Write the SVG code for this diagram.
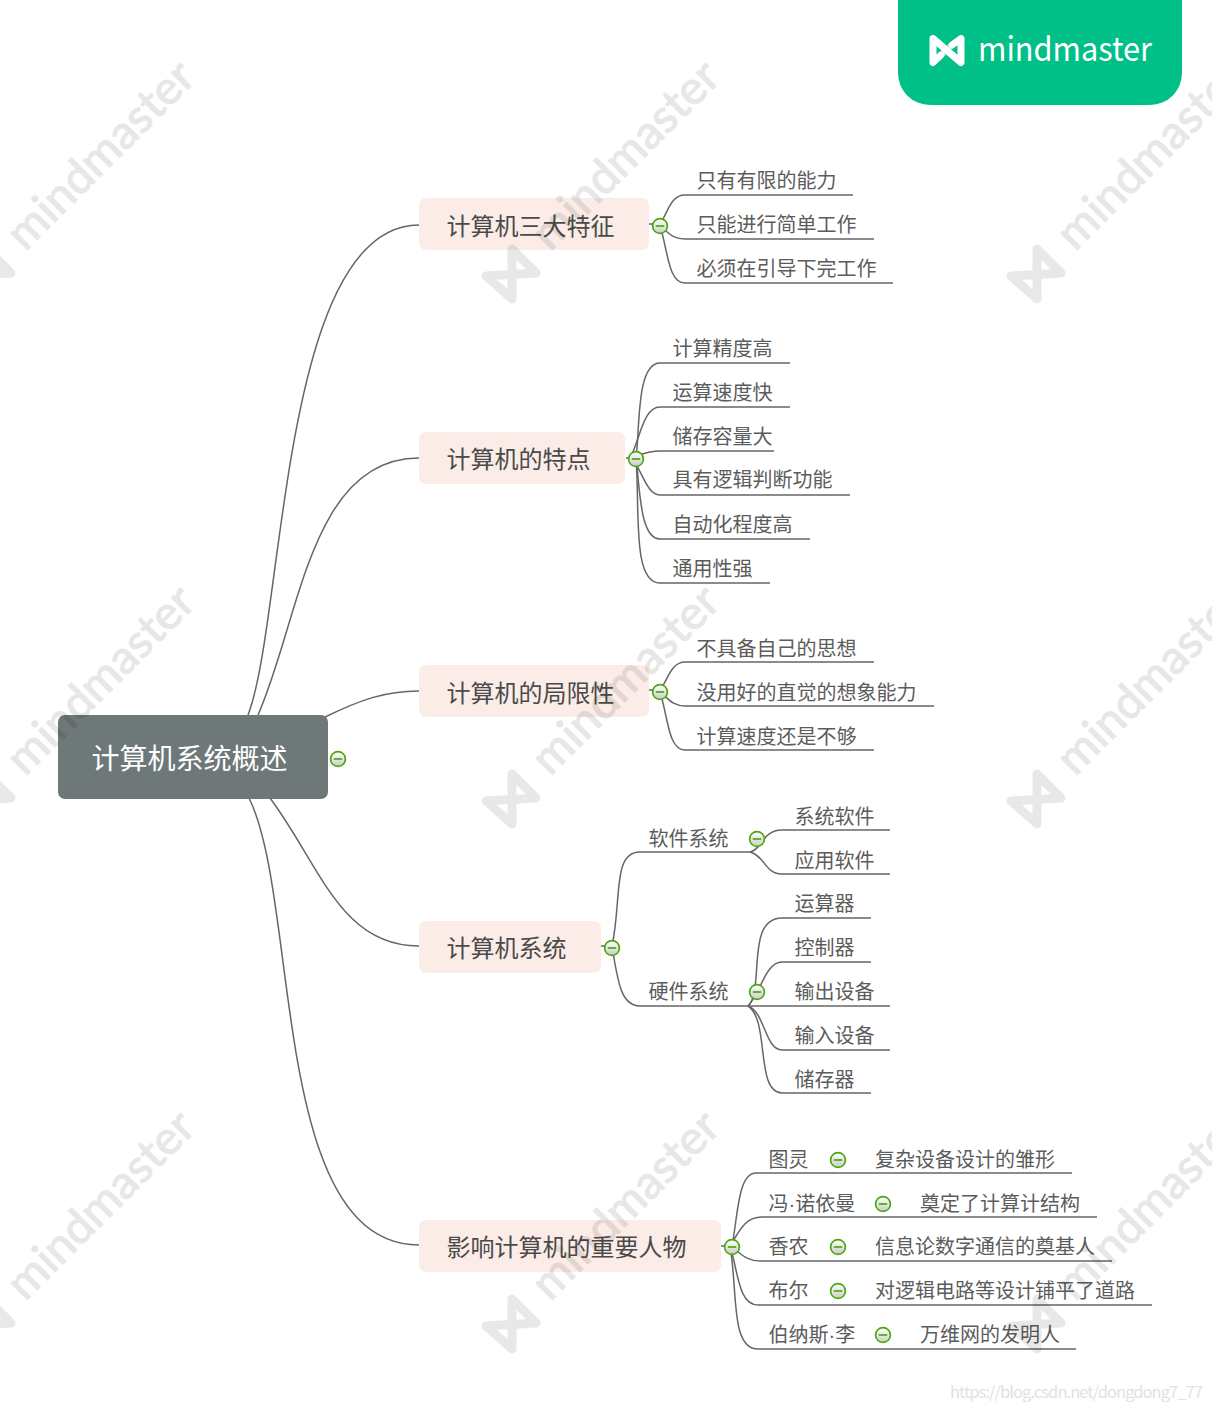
<svg xmlns="http://www.w3.org/2000/svg" width="1212" height="1410" viewBox="0 0 1212 1410">
<style>
text{font-family:"Noto Sans CJK SC","Noto Sans",sans-serif}
.c{fill:none;stroke:#666;stroke-width:1.5}
.m{fill:#fbece7}
.mt{font-size:24px;fill:#4a4a4a}
.lt{font-size:20px;fill:#5c5c5c}
.d{font-family:"Liberation Sans",sans-serif}
.b circle{fill:url(#bg);stroke:#4ca80e;stroke-width:1.7}
.b path{stroke:#4ca80e;stroke-width:1.7;fill:none}
.wt{font-family:Lato,"Open Sans",sans-serif;font-size:46px;fill:#000;stroke:#000;stroke-width:1.2;opacity:.09}
.wl{fill:none;stroke:#000;stroke-opacity:.09;stroke-width:9;stroke-linejoin:round}
</style>
<defs>
<linearGradient id="bg" x1="0" y1="0" x2="0" y2="1"><stop offset="0" stop-color="#fff"/><stop offset="1" stop-color="#c9cdc9"/></linearGradient>
<g id="btn" class="b"><circle r="7.4"/><path d="M-4.2 0H4.2"/></g>
<g id="wm">
<text class="wt" transform="translate(25,252) rotate(-45)" textLength="244" lengthAdjust="spacingAndGlyphs">mindmaster</text>
<path class="wl" d="M-13 249L11 273L-39 276L-13 299Z"/>
</g>
</defs>
<rect width="1212" height="1410" fill="#fff"/>
<g id="connectors">
<path class="c" d="M248 715C285 620 280 225 419 225"/>
<path class="c" d="M258 715C300 620 310 458 419 458"/>
<path class="c" d="M325 717C360 700 385 691 419 691"/>
<path class="c" d="M270 798C320 865 340 946 419 946"/>
<path class="c" d="M249 798C300 900 270 1245 419 1245"/>
<path class="c" d="M649 224H660C668 212 671 195 685 195H853"/>
<path class="c" d="M660 226C668 232 672 239 685 239H874"/>
<path class="c" d="M660 226C668 250 668 283 685 283H893"/>
<path class="c" d="M626 458H636C640 430 636 363 660 363H790"/>
<path class="c" d="M630 458C640 440 643 407 660 407H790"/>
<path class="c" d="M630 458C640 456 645 451 660 451H774"/>
<path class="c" d="M630 458C640 462 645 495 660 495H850"/>
<path class="c" d="M636 458C640 490 640 539 660 539H810"/>
<path class="c" d="M636 458C640 510 632 583 660 583H770"/>
<path class="c" d="M649 690H660C668 680 671 662 685 662H874"/>
<path class="c" d="M660 692C668 698 672 706 685 706H934"/>
<path class="c" d="M660 692C668 716 668 750 685 750H874"/>
<path class="c" d="M601 946H612C622 900 612 852 640 852H750C762 850 762 830 782 830H890"/>
<path class="c" d="M750 852C765 856 765 874 782 874H890"/>
<path class="c" d="M612 946C618 985 622 1006 640 1006H748"/>
<path class="c" d="M748 1006C765 990 745 918 782 918H871"/>
<path class="c" d="M748 1006C760 995 765 962 782 962H871"/>
<path class="c" d="M748 1006H890"/>
<path class="c" d="M748 1006C765 1012 765 1050 782 1050H890"/>
<path class="c" d="M748 1006C770 1020 755 1093 782 1093H871"/>
<path class="c" d="M721 1246H732C738 1215 738 1173 756 1173H1072"/>
<path class="c" d="M730 1246C740 1230 745 1217 762 1217H1097"/>
<path class="c" d="M730 1246C740 1252 745 1261 760 1261H1112"/>
<path class="c" d="M730 1246C738 1270 738 1305 758 1305H1152"/>
<path class="c" d="M730 1246C738 1290 730 1349 758 1349H1076"/>
</g>
<g id="root"><rect x="58" y="715" width="270" height="84" rx="7" fill="#6e7878"/><text x="91.500" y="769" font-size="28" fill="#fff">计算机系统概述</text><use href="#btn" x="338" y="759"/></g>
<g id="n1"><rect class="m" x="419" y="198" width="230" height="52" rx="7"/><text class="mt" x="446.500" y="235">计算机三大特征</text><use href="#btn" x="660" y="226"/></g>
<g id="n2"><rect class="m" x="419" y="432" width="206" height="52" rx="7"/><text class="mt" x="446.500" y="468">计算机的特点</text><use href="#btn" x="636" y="459"/></g>
<g id="n3"><rect class="m" x="419" y="665" width="230" height="52" rx="7"/><text class="mt" x="446.500" y="702">计算机的局限性</text><use href="#btn" x="660" y="692"/></g>
<g id="n4"><rect class="m" x="419" y="921" width="182" height="52" rx="7"/><text class="mt" x="446.500" y="957">计算机系统</text><use href="#btn" x="612" y="948"/></g>
<g id="n5"><rect class="m" x="419" y="1220" width="302" height="52" rx="7"/><text class="mt" x="446.500" y="1256">影响计算机的重要人物</text><use href="#btn" x="732" y="1247"/></g>
<g id="leaves">
<text class="lt" x="696.500" y="188">只有有限的能力</text>
<text class="lt" x="696.500" y="232">只能进行简单工作</text>
<text class="lt" x="696.500" y="275.500">必须在引导下完工作</text>
<text class="lt" x="672.500" y="356">计算精度高</text>
<text class="lt" x="672.500" y="400">运算速度快</text>
<text class="lt" x="672.500" y="443.500">储存容量大</text>
<text class="lt" x="672.500" y="487">具有逻辑判断功能</text>
<text class="lt" x="672.500" y="531.500">自动化程度高</text>
<text class="lt" x="672.500" y="575.500">通用性强</text>
<text class="lt" x="696.500" y="655.500">不具备自己的思想</text>
<text class="lt" x="696.500" y="699.500">没用好的直觉的想象能力</text>
<text class="lt" x="696.500" y="743.500">计算速度还是不够</text>
<text class="lt" x="648.500" y="845.500">软件系统</text>
<text class="lt" x="648.500" y="998.500">硬件系统</text>
<text class="lt" x="794.500" y="823.500">系统软件</text>
<text class="lt" x="794.500" y="867.500">应用软件</text>
<text class="lt" x="794.500" y="910.500">运算器</text>
<text class="lt" x="794.500" y="954.500">控制器</text>
<text class="lt" x="794.500" y="998.500">输出设备</text>
<text class="lt" x="794.500" y="1042.500">输入设备</text>
<text class="lt" x="794.500" y="1086.500">储存器</text>
<text class="lt" x="768.500" y="1166.500">图灵</text>
<text class="lt" x="768.500" y="1210.500">冯<tspan class="d">·</tspan>诺依曼</text>
<text class="lt" x="768.500" y="1253.500">香农</text>
<text class="lt" x="768.500" y="1297.500">布尔</text>
<text class="lt" x="768.500" y="1341.500">伯纳斯<tspan class="d">·</tspan>李</text>
<text class="lt" x="875" y="1166.500">复杂设备设计的雏形</text>
<text class="lt" x="920" y="1210.500">奠定了计算计结构</text>
<text class="lt" x="875" y="1253.500">信息论数字通信的奠基人</text>
<text class="lt" x="875" y="1297.500">对逻辑电路等设计铺平了道路</text>
<text class="lt" x="920" y="1341.500">万维网的发明人</text>
<use href="#btn" x="757" y="839"/><use href="#btn" x="757" y="992"/>
<use href="#btn" x="838" y="1160"/><use href="#btn" x="883" y="1204"/><use href="#btn" x="838" y="1247"/><use href="#btn" x="838" y="1291"/><use href="#btn" x="883" y="1335"/>
</g>
<g id="watermark">
<use href="#wm" x="0" y="0"/><use href="#wm" x="525" y="0"/><use href="#wm" x="1050" y="0"/>
<use href="#wm" x="0" y="525"/><use href="#wm" x="525" y="525"/><use href="#wm" x="1050" y="525"/>
<use href="#wm" x="0" y="1050"/><use href="#wm" x="525" y="1050"/><use href="#wm" x="1050" y="1050"/>
</g>
<g id="logo">
<path d="M898 0H1182V73A32 32 0 0 1 1150 105H930A32 32 0 0 1 898 73Z" fill="#00c087"/>
<path d="M941 55L952 45" fill="none" stroke="#fff" stroke-opacity=".5" stroke-width="6"/>
<path d="M941 55L933 62.500V38.500L961 62.500V38.500L952 45" fill="none" stroke="#fff" stroke-width="7" stroke-linejoin="round" stroke-linecap="round"/>
<text x="978" y="61" font-family="Lato,'Open Sans',sans-serif" font-size="33" fill="#fff" textLength="174" lengthAdjust="spacingAndGlyphs">mindmaster</text>
</g>
<text x="950" y="1398" font-family="Liberation Sans,sans-serif" font-size="16.500" fill="#e2e2e2" textLength="253">https://blog.csdn.net/dongdong7_77</text>
</svg>
